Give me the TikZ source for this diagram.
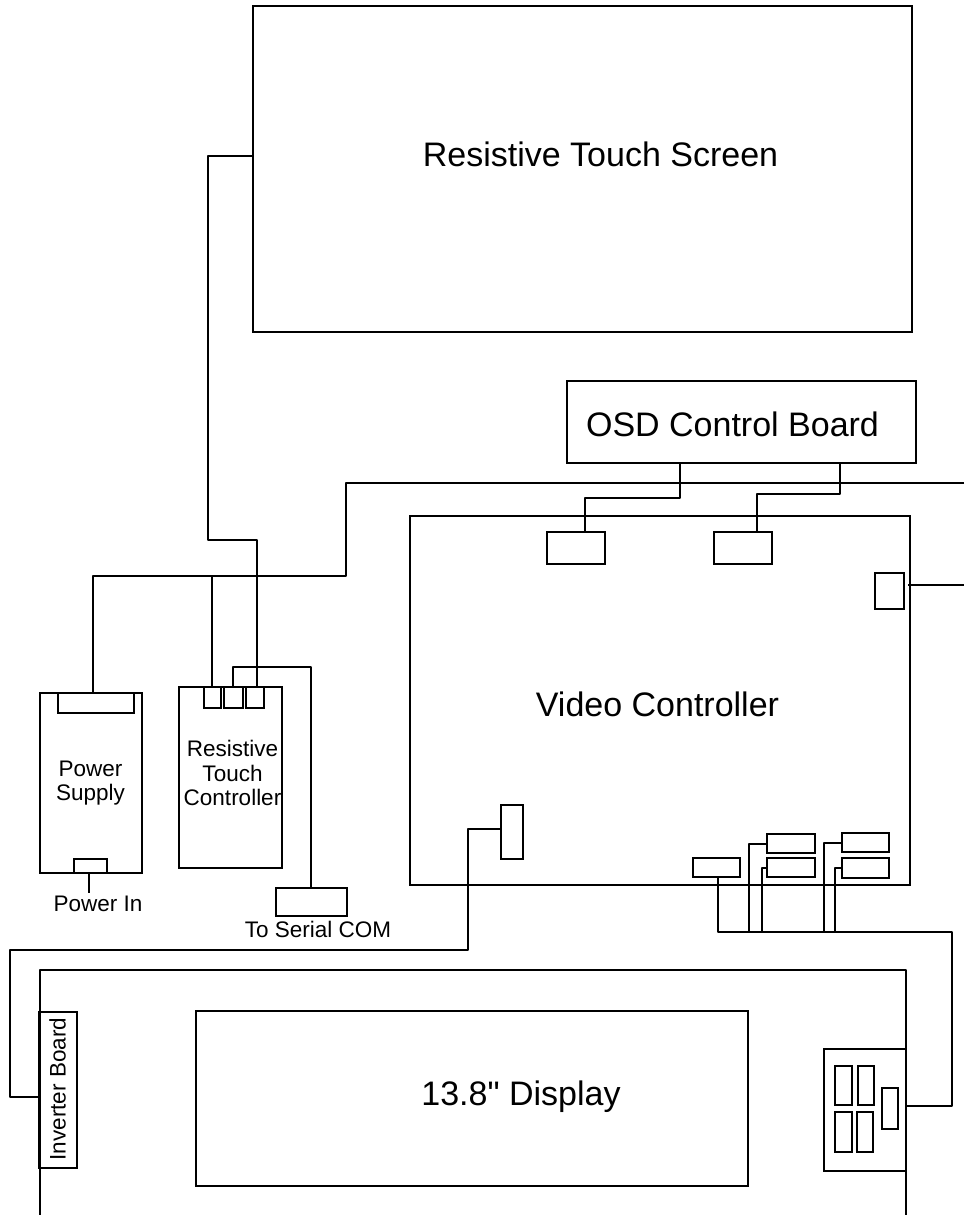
\documentclass[tikz,border=0pt]{standalone}
\usepackage{fontspec}
\setmainfont{Liberation Sans}
\newfontfamily\straightfont{Liberation Sans}
\usetikzlibrary{positioning}
\begin{document}
\begin{tikzpicture}[x=1pt,y=-1pt,node distance=3pt,
box/.style 2 args={draw,line width=2pt,inner sep=0pt,outer sep=0pt,anchor=north west,minimum width=#1,minimum height=#2},
big/.style={inner sep=0pt,align=center,font=\fontsize{34}{38}\selectfont},
small/.style={inner sep=0pt,align=center,font=\fontsize{22.5}{24.5}\selectfont},
wire/.style={line width=2pt,line join=round}]
\useasboundingbox (0,0) rectangle (964,1215);
\node[box={659}{326}] (screen) at (253,6) {};
\node[big] (screentext) at (600.5,154) {Resistive Touch Screen};
\node[box={349}{82}] (osd) at (567,381) {};
\node[big] (osdtext) at (732.5,424) {OSD Control Board};
\node[box={500}{369}] (video) at (410,516) {};
\node[big] (videotext) at (657.5,704) {Video Controller};
\node[box={58}{32}] (pinosda) at (547,532) {};
\node[box={58}{32},right=109pt of pinosda] (pinosdb) {};
\node[box={29}{36}] (pinout) at (875,573) {};
\node[box={22}{54}] (pininv) at (501,805) {};
\node[box={47}{19}] (pinmain) at (693,858) {};
\node[box={48}{19}] (pinlvdsa) at (767,834) {};
\node[box={48}{19},below=5pt of pinlvdsa] (pinlvdsb) {};
\node[box={47}{19}] (pinlvdsc) at (842,833) {};
\node[box={47}{20},below=6pt of pinlvdsc] (pinlvdsd) {};
\node[box={102}{180}] (supply) at (40,693) {};
\node[small] (supplytext) at (90.5,783) {Power\\Supply};
\node[box={76}{20}] (pinacdc) at (57.5,693) {};
\node[box={33}{14}] (pinin) at (74,859) {};
\node[small,below=23pt of supply.south,xshift=7pt] (powerin) {Power In};
\node[box={103}{181}] (touch) at (179,687) {};
\node[small] (touchtext) at (232.5,773) {Resistive\\Touch\\Controller};
\node[box={17.5}{21}] (pinta) at (203.5,687) {};
\node[box={18.5}{21},right=of pinta] (pintb) {};
\node[box={18.5}{21},right=of pintb] (pintc) {};
\node[box={71}{28}] (serial) at (275.5,888) {};
\node[small,below=5pt of serial.south,xshift=7pt] (serialtext) {To Serial COM};
\node[box={552}{175}] (display) at (196,1011) {};
\node[big] (displaytext) at (521,1097) {\straightfont 13.8" Display};
\node[box={38}{156}] (inverter) at (39,1012) {};
\node[small,rotate=90] (invertertext) at (57.5,1089) {Inverter Board};
\node[box={82}{122}] (board) at (824,1049) {};
\node[box={17}{39}] (slota) at (835,1066) {};
\node[box={16}{39},right=6pt of slota] (slotb) {};
\node[box={17}{40}] (slotc) at (835,1112) {};
\node[box={16}{40},right=5pt of slotc] (slotd) {};
\node[box={16}{41}] (slote) at (882,1088) {};
\coordinate (panelleft) at (40,1215);
\coordinate (paneltop) at (40,970);
\coordinate (panelright) at (906,1215);
\coordinate (edgeosd) at (964,483);
\coordinate (edgeout) at (964,585);
\coordinate (outstart) at (908,585);
\coordinate (screenout) at (253,156);
\coordinate (screenbend) at (208,540);
\coordinate (pwrsplit) at (346,576);
\coordinate (pwrup) at (93,693);
\coordinate (pwrtouch) at (212,687);
\coordinate (touchdown) at (257,687);
\coordinate (serialup) at (233,687);
\coordinate (serialtop) at (311,667);
\coordinate (invstart) at (501,829);
\coordinate (invleft) at (10,1097);
\coordinate (invbus) at (468,950);
\coordinate (bus) at (718,932);
\coordinate (busend) at (952,932);
\coordinate (boardout) at (906,1106);
\coordinate (osda) at (680,463);
\coordinate (osdb) at (840,463);
\coordinate (osdadrop) at (585,498);
\coordinate (osdbdrop) at (757,494);
\coordinate (inline) at (89,873);
\coordinate (inend) at (89,893);
\coordinate (tapa) at (749,932);
\coordinate (tapb) at (762,932);
\coordinate (tapc) at (824,932);
\coordinate (tapd) at (835,932);
\draw[wire] (panelleft)--(paneltop)-|(panelright);
\draw[wire] (screenout)-|(screenbend)-|(touchdown);
\draw[wire] (edgeosd)-|(pwrsplit)-|(pwrup);
\draw[wire] (pwrtouch|-pwrsplit)--(pwrtouch);
\draw[wire] (osda)|-(osdadrop)--(osdadrop|-pinosda.north);
\draw[wire] (osdb)|-(osdbdrop)--(osdbdrop|-pinosdb.north);
\draw[wire] (outstart)--(edgeout);
\draw[wire] (serialup)|-(serialtop)--(serial.north);
\draw[wire] (inline)--(inend);
\draw[wire] (invstart)-|(invbus)-|(invleft)--(invleft-|inverter.west);
\draw[wire] (boardout)-|(busend)--(bus)--(bus|-pinmain.south);
\draw[wire] (tapa)|-(pinlvdsa.west);
\draw[wire] (tapb)|-(pinlvdsb.west);
\draw[wire] (tapc)|-(pinlvdsc.west);
\draw[wire] (tapd)|-(pinlvdsd.west);
\end{tikzpicture}
\end{document}
